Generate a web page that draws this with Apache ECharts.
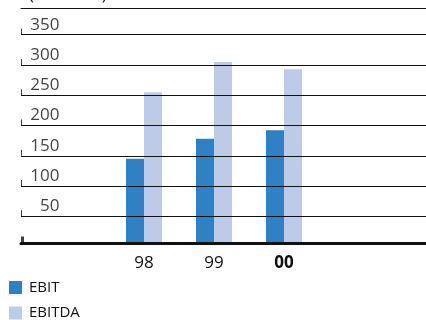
<!DOCTYPE html>
<html><head><meta charset="utf-8">
<script src="https://cdn.jsdelivr.net/npm/echarts@6/dist/echarts.min.js"></script>
<style>html,body{margin:0;padding:0;background:#fff}#c{width:426px;height:320px}</style>
</head><body><div id="c"></div>
<script>
var categories = ['98', '99', '00'];
var ebit = [145, 178, 192];
var ebitda = [255, 305, 293];
var yTicks = [50, 100, 150, 200, 250, 300, 350];
var seriesNames = ['EBIT', 'EBITDA'];
var unitLabel = '(€ million)';

var Y_MIN = 5.12, Y_MAX = 394.1;
var FONT = '"Open Sans", "Noto Sans", sans-serif';
var INK = '#111';

var chart = echarts.init(document.getElementById('c'), null, {renderer: 'canvas'});
var legendBase = {
  orient: 'vertical', left: 9, itemWidth: 13, itemHeight: 13,
  icon: 'rect', padding: 0,
  textStyle: {fontSize: 15, color: INK, fontFamily: FONT, padding: [0, 0, 0, 2]}
};
chart.setOption({
  animation: false,
  backgroundColor: '#fff',
  textStyle: {fontFamily: FONT},
  grid: [
    {left: 21, right: 0, top: 8, bottom: 76.5},
    {left: 109, width: 210, top: 8, bottom: 76.5}
  ],
  xAxis: [
    {gridIndex: 0, type: 'value', min: 0, max: 1, position: 'bottom', z: 10,
      axisLine: {show: true, lineStyle: {color: INK, width: 3}},
      axisTick: {show: false}, axisLabel: {show: false}, splitLine: {show: false}},
    {gridIndex: 0, type: 'value', min: 0, max: 1, position: 'top',
      axisLine: {show: true, lineStyle: {color: INK, width: 1}},
      axisTick: {show: false}, axisLabel: {show: false}, splitLine: {show: false}},
    {gridIndex: 1, type: 'category', data: categories,
      axisLine: {show: false}, axisTick: {show: false}, splitLine: {show: false},
      axisLabel: {margin: 11, fontSize: 17, color: INK, fontFamily: FONT,
        formatter: function (v) { return v === '00' ? '{b|' + v + '}' : v; },
        rich: {b: {fontWeight: 'bold', fontSize: 17, color: INK, fontFamily: FONT}}}}
  ],
  yAxis: [
    {gridIndex: 0, type: 'value', min: Y_MIN, max: Y_MAX, show: false, splitLine: {show: false}},
    {gridIndex: 1, type: 'value', min: Y_MIN, max: Y_MAX, show: false, splitLine: {show: false}}
  ],
  legend: [
    Object.assign({}, legendBase, {top: 280, data: [seriesNames[0]]}),
    Object.assign({}, legendBase, {top: 305.5, data: [seriesNames[1]]})
  ],
  graphic: [
    {type: 'text', left: 29, top: -13, style: {text: unitLabel, fontSize: 17, fill: INK, fontFamily: FONT}}
  ],
  series: [
    {
      name: 'ticks', type: 'scatter', xAxisIndex: 0, yAxisIndex: 0, silent: true,
      data: yTicks.map(function (v) { return [0, v]; }),
      symbol: 'rect', symbolSize: [1, 6], symbolOffset: [0.5, -3],
      itemStyle: {color: INK},
      label: {show: true, position: [38.5, -4], align: 'right', verticalAlign: 'middle',
        fontSize: 17, color: INK, fontFamily: FONT,
        formatter: function (p) { return String(p.value[1]); }},
      markLine: {
        silent: true, symbol: 'none', label: {show: false},
        lineStyle: {color: INK, width: 1, type: 'solid'},
        data: yTicks.map(function (v) { return {yAxis: v}; })
      },
      z: 1
    },
    {
      name: 'axisTick', type: 'scatter', xAxisIndex: 0, yAxisIndex: 0, silent: true,
      data: [[0, Y_MIN]], symbol: 'rect', symbolSize: [3, 7], symbolOffset: [1.5, -3.5],
      itemStyle: {color: INK}, z: 5
    },
    {
      name: seriesNames[0], type: 'bar', xAxisIndex: 2, yAxisIndex: 1, data: ebit,
      barWidth: 18, barGap: '0%', itemStyle: {color: '#3081C4'}, z: 1
    },
    {
      name: seriesNames[1], type: 'bar', xAxisIndex: 2, yAxisIndex: 1, data: ebitda,
      barWidth: 18, barGap: '0%', itemStyle: {color: '#BECBE8'}, z: 1
    }
  ]
});
</script></body></html>
